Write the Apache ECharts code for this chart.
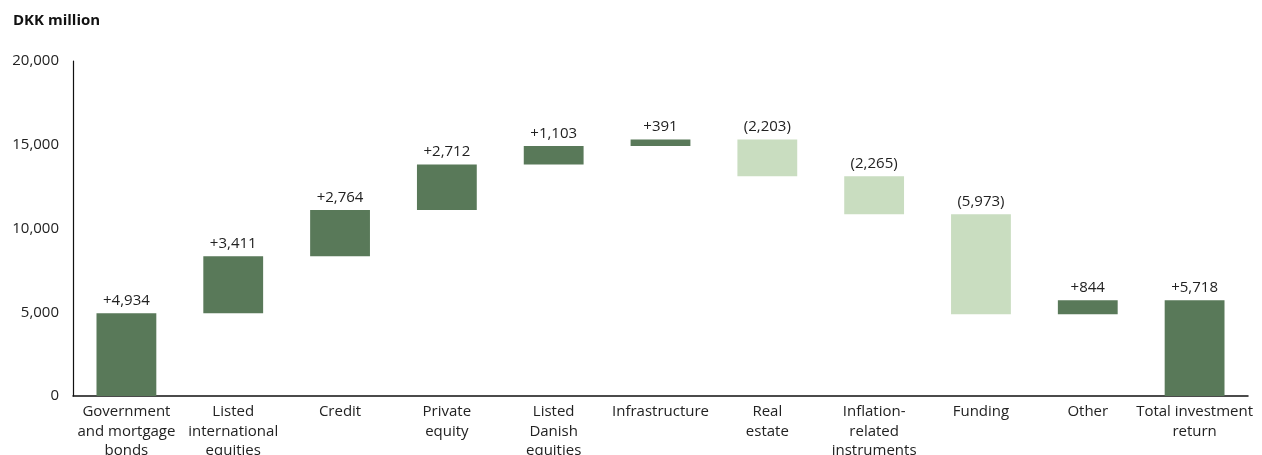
<!DOCTYPE html>
<html><head><meta charset="utf-8">
<script src="https://cdn.jsdelivr.net/npm/echarts@6/dist/echarts.min.js"></script>
<style>html,body{margin:0;padding:0;background:#fff}#c{width:1262px;height:455px}</style>
</head><body><div id="c"></div>
<script>
const categories = ["Government\nand mortgage\nbonds","Listed\ninternational\nequities","Credit","Private\nequity","Listed\nDanish\nequities","Infrastructure","Real\nestate","Inflation-\nrelated\ninstruments","Funding","Other","Total investment\nreturn"];
const changes = [4934, 3411, 2764, 2712, 1103, 391, -2203, -2265, -5973, 844, 5718];
const isTotal = [false,false,false,false,false,false,false,false,false,false,true];
const yTicks = [0, 5000, 10000, 15000, 20000];

const DARK = '#597959', LIGHT = '#c9ddc0';
const base = [], vis = [];
let cum = 0;
changes.forEach((v, i) => {
  if (isTotal[i]) { base.push(0); vis.push({value: v, itemStyle:{color: DARK}}); return; }
  if (v >= 0) { base.push(cum); vis.push({value: v, itemStyle:{color: DARK}}); cum += v; }
  else { cum += v; base.push(cum); vis.push({value: -v, itemStyle:{color: LIGHT}}); }
});
const fmt = v => v >= 0 ? '+' + v.toLocaleString('en-US') : '(' + (-v).toLocaleString('en-US') + ')';

const chart = echarts.init(document.getElementById('c'));
const FONT = 'Open Sans';
chart.setOption({
  animation: false,
  textStyle: {fontFamily: FONT},
  title: {text: 'DKK million', left: 8, top: 8, textStyle: {fontSize: 15, fontWeight: 'bold', color: '#111', fontFamily: FONT}},
  grid: {left: 73, right: 14, top: 61, bottom: 59, containLabel: false, outerBoundsMode: 'none'},
  xAxis: {type: 'category', data: categories,
    axisLine: {lineStyle: {color: '#111', width: 1.5}}, axisTick: {show: false},
    axisLabel: {interval: 0, color: '#222', fontSize: 15, lineHeight: 19.5, margin: 6, fontFamily: FONT}},
  yAxis: {type: 'value', min: yTicks[0], max: yTicks[yTicks.length-1], interval: 5000,
    axisLine: {show: true, lineStyle: {color: '#111', width: 1.2}}, axisTick: {show: false}, splitLine: {show: false},
    axisLabel: {color: '#222', fontSize: 15, margin: 14, fontFamily: FONT,
      formatter: v => v.toLocaleString('en-US')}},
  series: [
    {type: 'bar', stack: 'w', data: base, itemStyle: {color: 'transparent'}, barWidth: '56%', silent: true},
    {type: 'bar', stack: 'w', data: vis, barWidth: '56%',
      label: {show: true, position: 'top', distance: 5, color: '#222', fontSize: 15, fontFamily: FONT,
        formatter: p => fmt(changes[p.dataIndex])}}
  ]
});
</script></body></html>
